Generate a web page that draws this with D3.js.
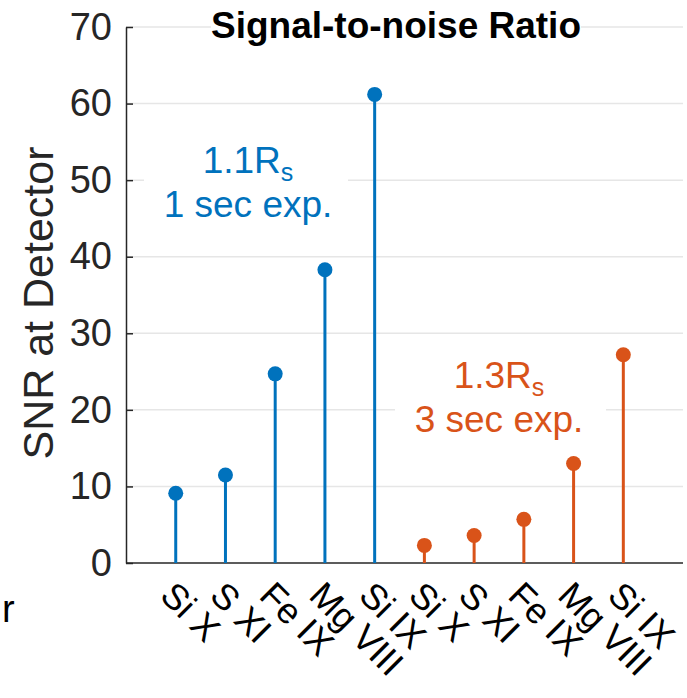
<!DOCTYPE html>
<html>
<head>
<meta charset="utf-8">
<script src="https://cdn.jsdelivr.net/npm/d3@7"></script>
<style>
  body { margin: 0; background: white; }
  text { font-family: "Liberation Sans", Arial, sans-serif; }
</style>
</head>
<body>
<div id="chart"></div>
<script>
var lines = ["Si X", "S XI", "Fe IX", "Mg VIII", "Si IX"];
var snr_near = [9.1, 11.5, 24.7, 38.3, 61.2];   // 1.1Rs, 1 sec
var snr_far = [2.3, 3.6, 5.7, 13.0, 27.2];      // 1.3Rs, 3 sec
var y_ticks = [0, 10, 20, 30, 40, 50, 60, 70];

var blue = "#0072BD", orange = "#D95319";

var margin = { top: 27, right: 4, bottom: 135, left: 126 },
    width = 687 - margin.left - margin.right,
    height = 698 - margin.top - margin.bottom;

var svg = d3.select("#chart")
    .append("svg")
    .attr("width", 687)
    .attr("height", 698);

var g = svg.append("g")
    .attr("transform", "translate(" + margin.left + "," + margin.top + ")");

var data = lines.map(function (d, i) { return { name: d, pos: i + 1, value: snr_near[i], color: blue }; })
    .concat(lines.map(function (d, i) { return { name: d, pos: i + 6, value: snr_far[i], color: orange }; }));

var x = d3.scaleLinear().domain([0, 11.2]).range([0, width]);
var y = d3.scaleLinear().domain([0, 70]).range([height, 0]);

// grid
g.selectAll(".grid")
    .data(y_ticks.slice(1))
    .enter()
    .append("line")
    .attr("x1", 0)
    .attr("x2", width)
    .attr("y1", function (d) { return y(d) })
    .attr("y2", function (d) { return y(d) })
    .style("stroke", "#e6e6e6")
    .style("stroke-width", 1.5);

// y axis
var yAxis = g.append("g")
    .call(d3.axisLeft(y).tickValues(y_ticks).tickSize(0).tickPadding(14));
yAxis.select(".domain").style("stroke", "#262626").style("stroke-width", 1.5);
yAxis.selectAll(".tick").append("line")
    .attr("x1", 0).attr("x2", 7)
    .style("stroke", "#262626").style("stroke-width", 1.5);
yAxis.selectAll(".tick text")
    .style("font-size", "38px")
    .style("fill", "#262626");

// x axis baseline
g.append("line")
    .attr("x1", 0)
    .attr("x2", width)
    .attr("y1", y(0))
    .attr("y2", y(0))
    .style("stroke", "#262626")
    .style("stroke-width", 1.5);

// x tick labels
g.selectAll(".xlab")
    .data(data)
    .enter()
    .append("text")
    .attr("transform", function (d) { return "translate(" + (x(d.pos) + 1) + "," + (y(0) + 16) + ") rotate(45)" })
    .attr("dy", "0.72em")
    .style("font-size", "36px")
    .style("fill", "#000")
    .text(function (d) { return d.name });

// text annotations with white boxes
function note(cx, base1, base2, r, sub, line2, color, boxX, boxW) {
    g.append("rect")
        .attr("x", boxX - margin.left)
        .attr("y", base1 - 38 - margin.top)
        .attr("width", boxW)
        .attr("height", base2 - base1 + 52)
        .style("fill", "white");
    var t1 = g.append("text")
        .attr("x", cx - margin.left)
        .attr("y", base1 - margin.top)
        .attr("text-anchor", "middle")
        .style("font-size", "37px")
        .style("fill", color);
    t1.append("tspan").text(r);
    t1.append("tspan").attr("dy", 8).style("font-size", "25px").text(sub);
    g.append("text")
        .attr("x", cx - margin.left)
        .attr("y", base2 - margin.top)
        .attr("text-anchor", "middle")
        .style("font-size", "37px")
        .style("fill", color)
        .text(line2);
}
note(248, 173, 217, "1.1R", "s", "1 sec exp.", blue, 144, 204);
note(499, 388, 432, "1.3R", "s", "3 sec exp.", orange, 395, 211);

// stems
g.selectAll(".stem")
    .data(data)
    .enter()
    .append("line")
    .attr("x1", function (d) { return x(d.pos) })
    .attr("x2", function (d) { return x(d.pos) })
    .attr("y1", y(0))
    .attr("y2", function (d) { return y(d.value) })
    .style("stroke", function (d) { return d.color })
    .style("stroke-width", 3);

g.selectAll(".dot")
    .data(data)
    .enter()
    .append("circle")
    .attr("cx", function (d) { return x(d.pos) })
    .attr("cy", function (d) { return y(d.value) })
    .attr("r", 7.5)
    .style("fill", function (d) { return d.color });

// title
var titleG = svg.append("g");
var titleBox = titleG.append("rect").style("fill", "white");
var title = titleG.append("text")
    .attr("x", 396)
    .attr("y", 38)
    .attr("text-anchor", "middle")
    .style("font-size", "37px")
    .style("font-weight", "bold")
    .text("Signal-to-noise Ratio");
var bb = title.node().getBBox();
titleBox
    .attr("x", bb.x)
    .attr("y", bb.y)
    .attr("width", bb.width)
    .attr("height", bb.height);

// y label
svg.append("text")
    .attr("transform", "translate(53,303) rotate(-90)")
    .attr("text-anchor", "middle")
    .style("font-size", "43px")
    .style("fill", "#262626")
    .text("SNR at Detector");

// stray clipped label at left
svg.append("text")
    .attr("x", 2)
    .attr("y", 622)
    .style("font-size", "38px")
    .style("fill", "#000")
    .text("r");
</script>
</body>
</html>
